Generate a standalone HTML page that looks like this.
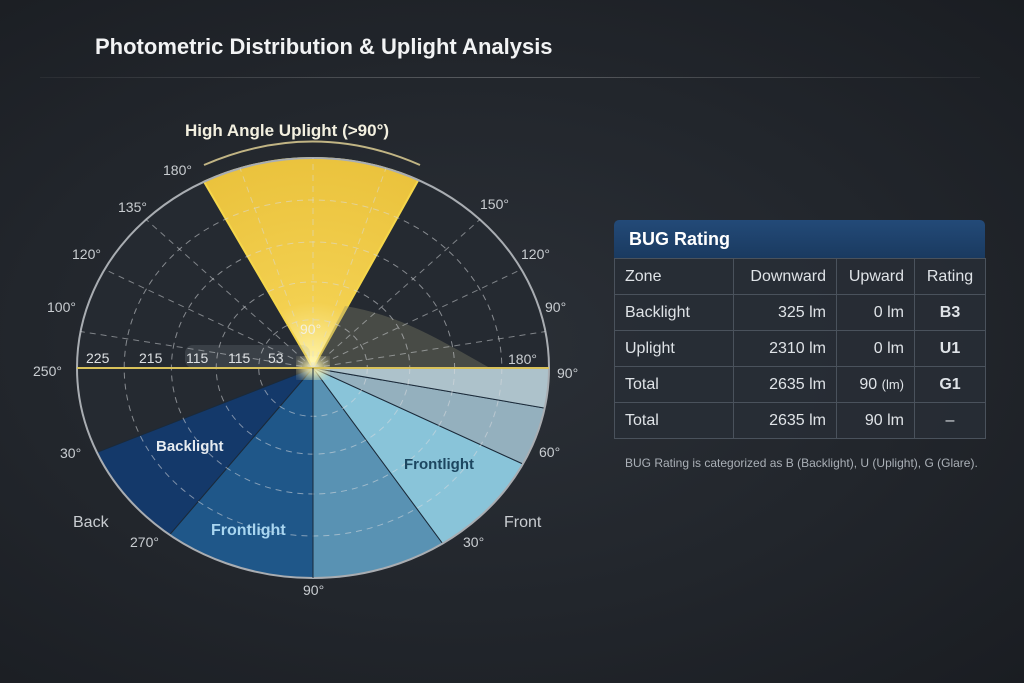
<!DOCTYPE html>
<html><head><meta charset="utf-8">
<style>
html,body{margin:0;padding:0;}
body{width:1024px;height:683px;overflow:hidden;background:radial-gradient(ellipse at 45% 50%,#2b3037 0%,#22262c 55%,#1a1d22 100%);font-family:"Liberation Sans","DejaVu Sans",sans-serif;color:#e6e8ea;position:relative;}
.title{position:absolute;left:95px;top:34px;font-size:22px;font-weight:bold;color:#f2f3f4;}
.rule{position:absolute;left:40px;top:77px;width:940px;height:1px;background:linear-gradient(90deg,rgba(255,255,255,0.05),rgba(255,255,255,0.25),rgba(255,255,255,0.05));}
table{position:absolute;left:614px;top:258px;width:371px;table-layout:fixed;border-collapse:collapse;font-size:16px;color:#dfe3e7;background:rgba(40,46,54,0.85);}
td{border:1px solid #4a525c;height:35px;padding:0 10px;white-space:nowrap;}
.hdr{position:absolute;left:614px;top:220px;width:371px;height:38px;background:linear-gradient(180deg,#234a78,#1a3a60);border-radius:5px 5px 0 0;font-size:18px;font-weight:bold;color:#fff;line-height:38px;}
.foot{position:absolute;left:625px;top:456px;font-size:12px;color:#aab0b7;}
</style></head><body>
<div class="title">Photometric Distribution &amp; Uplight Analysis</div>
<div class="rule"></div>
<svg id="polar" width="600" height="620" style="position:absolute;left:0;top:0" font-family="Liberation Sans, sans-serif">
<defs>
<radialGradient id="yg" cx="313" cy="368" r="220" gradientUnits="userSpaceOnUse"><stop offset="0" stop-color="#fff6b0"/><stop offset="0.3" stop-color="#f3d050"/><stop offset="1" stop-color="#eac23c"/></radialGradient>
<filter id="glow"><feGaussianBlur stdDeviation="6"/></filter>
</defs>
<g id="wedges"></g>
<g id="grid"></g>
<g id="labels"></g>
</svg>
<div class="hdr">&nbsp;&nbsp;&nbsp;BUG Rating</div>
<table>
<colgroup><col style="width:119px"><col style="width:103px"><col style="width:78px"><col style="width:71px"></colgroup>
<tr><td>Zone</td><td style="text-align:right">Downward</td><td style="text-align:right">Upward</td><td style="text-align:center">Rating</td></tr>
<tr><td>Backlight</td><td style="text-align:right">325 lm</td><td style="text-align:right">0 lm</td><td style="text-align:center;font-weight:bold">B3</td></tr>
<tr><td>Uplight</td><td style="text-align:right">2310 lm</td><td style="text-align:right">0 lm</td><td style="text-align:center;font-weight:bold">U1</td></tr>
<tr><td>Total</td><td style="text-align:right">2635 lm</td><td style="text-align:right">90 <span style="font-size:13px">(lm)</span></td><td style="text-align:center;font-weight:bold">G1</td></tr>
<tr><td>Total</td><td style="text-align:right">2635 lm</td><td style="text-align:right">90 lm</td><td style="text-align:center">–</td></tr>
</table>
<div class="foot">BUG Rating is categorized as B (Backlight), U (Uplight), G (Glare).</div>
<script>
const zoneNames=["uplight","backlight","back-frontlight","front-low","frontlight","front-mid","front-high"];
const zoneStart=[63.5,203.7,232.6,270,303.3,332.8,349];
const zoneEnd=[117.5,232.6,270,303.3,332.8,349,360];
const zoneReach=[1,1,1,1,1,1,1];
const zoneColors=["url(#yg)","#143a6e","#1f5a8e","#5c98ba","#8fcde2","#9ab8c6","#b5cbd4"];
const ringFractions=[0.23,0.41,0.6,0.8,1];
const spokeAngles=[10,28,45,72,90,108,135,152,170];
const cx=313,cy=368,rx=236,ry=210;
const NS="http://www.w3.org/2000/svg";
function px(a,f){return cx+rx*f*Math.cos(a*Math.PI/180);}
function py(a,f){return cy-ry*f*Math.sin(a*Math.PI/180);}
function mk(t,at,parent){const e=document.createElementNS(NS,t);for(const k in at)e.setAttribute(k,at[k]);document.getElementById(parent).appendChild(e);return e;}
let disk=mk("ellipse",{cx:cx,cy:cy,rx:rx,ry:ry,fill:"#252a31"},"wedges");


for(let i=0;i<zoneNames.length;i++){
  const f=zoneReach[i];let d="M"+cx+","+cy;
  for(let a=zoneStart[i];a<=zoneEnd[i]+0.01;a+=1){d+=" L"+px(a,f).toFixed(1)+","+py(a,f).toFixed(1);}
  d+=" L"+px(zoneEnd[i],f).toFixed(1)+","+py(zoneEnd[i],f).toFixed(1)+"Z";
  const p=mk("path",{d:d,fill:zoneColors[i],stroke:i==0?"#f5d64a":"#1b2a3a","stroke-width":i==0?2:1,opacity:i==0?1:0.95},"wedges");
  
  
}
let s1=mk("path",{d:"M313,368 L345,306 C400,315 440,340 490,368 Z",fill:"#8a8a70",opacity:0.35},"wedges");


let s2=mk("rect",{x:185,y:345,width:125,height:23,rx:8,fill:"#9aa6ae",opacity:0.18},"wedges");


let gl=mk("ellipse",{cx:313,cy:368,rx:14,ry:10,fill:"#fff6b0",filter:"url(#glow)"},"wedges");


for(const f of ringFractions){
  const e=mk("ellipse",{cx:cx,cy:cy,rx:rx*f,ry:ry*f,fill:"none",stroke:f==1?"#a9adb2":"#d8dbde","stroke-width":f==1?2:1,"stroke-dasharray":f==1?"":"6 5",opacity:f==1?1:0.55},"grid");
  
  
}
for(const a of spokeAngles){
  const l=mk("line",{x1:cx,y1:cy,x2:px(a,1),y2:py(a,1),stroke:"#d8dbde","stroke-dasharray":"6 5",opacity:0.5},"grid");
  
  
}
let hz=mk("line",{x1:cx-rx,y1:cy,x2:cx+rx,y2:cy,stroke:"#d9c25a","stroke-width":2},"grid");


let vl=mk("line",{x1:cx,y1:cy,x2:cx,y2:cy+ry,stroke:"#1b2a3a","stroke-width":1},"grid");


let arc=mk("path",{d:"M204,165 Q313,118 420,165",fill:"none",stroke:"#e8d89a","stroke-width":2,opacity:0.8},"grid");


const texts=[
 ["High Angle Uplight (>90°)",185,136,17,"#f3f0e0","bold","start"],
 ["180°",163,175,14,"#c9cdd1","normal","start"],["135°",118,212,14,"#c9cdd1","normal","start"],
 ["120°",72,259,14,"#c9cdd1","normal","start"],["100°",47,312,14,"#c9cdd1","normal","start"],
 ["250°",33,376,14,"#c9cdd1","normal","start"],["30°",60,458,14,"#c9cdd1","normal","start"],
 ["Back",73,527,16,"#c9cdd1","normal","start"],["270°",130,547,14,"#c9cdd1","normal","start"],
 ["90°",303,595,14,"#c9cdd1","normal","start"],["30°",463,547,14,"#c9cdd1","normal","start"],
 ["Front",504,527,16,"#c9cdd1","normal","start"],["60°",539,457,14,"#c9cdd1","normal","start"],
 ["90°",557,378,14,"#c9cdd1","normal","start"],["180°",508,364,14,"#c9cdd1","normal","start"],
 ["90°",545,312,14,"#c9cdd1","normal","start"],["120°",521,259,14,"#c9cdd1","normal","start"],
 ["150°",480,209,14,"#c9cdd1","normal","start"],["90°",300,334,14,"#f3f0e0","normal","start"],
 ["225",86,363,14,"#dde0e3","normal","start"],["215",139,363,14,"#dde0e3","normal","start"],
 ["115",186,363,14,"#dde0e3","normal","start"],["115",228,363,14,"#dde0e3","normal","start"],
 ["53",268,363,14,"#dde0e3","normal","start"],
 ["Backlight",156,451,15,"#e6ebf0","bold","start"],["Frontlight",211,535,16,"#a9d6f0","bold","start"],
 ["Frontlight",404,469,15,"#1c4660","bold","start"]
];
for(const t of texts){
  const e=mk("text",{x:t[1],y:t[2],"font-size":t[3],fill:t[4],"font-weight":t[5],"text-anchor":t[6]},"labels");
  e.textContent=t[0];
  
  
}
</script>
</body></html>
